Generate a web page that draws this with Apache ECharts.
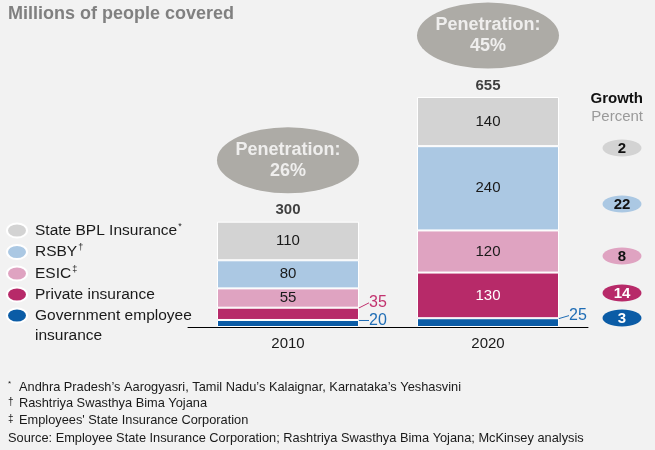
<!DOCTYPE html>
<html><head><meta charset="utf-8">
<script src="https://cdn.jsdelivr.net/npm/echarts@6/dist/echarts.min.js"></script>
<style>html,body{margin:0;padding:0;background:#f2f2f2}#c{width:655px;height:450px}</style>
</head><body><div id="c"></div>
<script>
// ---- data ----
const years = ['2010', '2020'];
const govt = [20, 25];
const priv = [35, 130];
const esic = [55, 120];
const rsby = [80, 240];
const bpl = [110, 140];
const totals = [300, 655];
const penetration = [26, 45];
const growthNames = ['State BPL Insurance', 'RSBY', 'ESIC', 'Private insurance', 'Government employee insurance'];
const growth = [2, 22, 8, 14, 3];
const footnotes = [
  ['*', 'Andhra Pradesh\u2019s Aarogyasri, Tamil Nadu\u2019s Kalaignar, Karnataka\u2019s Yeshasvini'],
  ['\u2020', 'Rashtriya Swasthya Bima Yojana'],
  ['\u2021', 'Employees\' State Insurance Corporation']
];
const sourceText = 'Source: Employee State Insurance Corporation; Rashtriya Swasthya Bima Yojana; McKinsey analysis';

// ---- styling ----
const FONT = '"Liberation Sans", Arial, sans-serif';
const colors = {
  'Government employee insurance': '#0b5ca6',
  'Private insurance': '#b72a69',
  'ESIC': '#dfa3c1',
  'RSBY': '#abc8e3',
  'State BPL Insurance': '#d3d3d3'
};
const sups = {'State BPL Insurance': '*', 'RSBY': '\u2020', 'ESIC': '\u2021'};
const ellipsePath = 'path://M0,50 A100,50 0 1,1 200,50 A100,50 0 1,1 0,50 Z';

function segSeries(name, values, labelColors, outside) {
  return {
    name: name, type: 'bar', stack: 'total', barWidth: 142,
    itemStyle: {color: colors[name], borderColor: '#ffffff', borderWidth: 1},
    label: {show: true, position: 'inside', fontSize: 15, fontFamily: FONT, color: '#1a1a1a'},
    data: values.map(function (v, i) {
      const d = {value: v, label: {color: labelColors[i]}};
      if (outside && outside[i]) {
        d.label = {position: 'right', distance: 10, color: outside[i].color, fontSize: 16};
        d.labelLine = {show: true, lineStyle: {color: outside[i].color, width: 1}};
      }
      return d;
    }),
    labelLayout: outside ? function (p) {
      const o = outside[p.dataIndex];
      return o ? {dy: o.dy} : {};
    } : undefined
  };
}

const series = [
  segSeries('Government employee insurance', govt, ['#fff', '#fff'],
    [{color: '#1f6db5', dy: -3}, {color: '#1f6db5', dy: -7}]),
  segSeries('Private insurance', priv, ['#fff', '#ffffff'],
    [{color: '#c2336f', dy: -11}, null]),
  segSeries('ESIC', esic, ['#1a1a1a', '#1a1a1a']),
  segSeries('RSBY', rsby, ['#1a1a1a', '#1a1a1a']),
  segSeries('State BPL Insurance', bpl, ['#1a1a1a', '#1a1a1a']),
  {
    name: 'totals', type: 'scatter', symbolSize: 0, silent: true,
    data: totals,
    label: {show: true, position: 'top', distance: 4, fontSize: 15, fontWeight: 'bold', color: '#111', fontFamily: FONT}
  },
  {
    name: 'penetration', type: 'scatter', silent: true,
    symbol: ellipsePath, symbolKeepAspect: false, symbolSize: [142, 66],
    itemStyle: {color: '#9b9892'},
    data: totals.map(function (t, i) { return {value: t + 175}; }),
    label: {
      show: true, position: 'inside', color: '#ffffff', fontSize: 18, fontWeight: 'bold',
      fontFamily: FONT, lineHeight: 21,
      formatter: function (p) { return 'Penetration:\n' + penetration[p.dataIndex] + '%'; }
    }
  }
];

// growth badges (annotation column)
const badgeY = [148, 204, 256, 293, 318];
const graphics = [];
growth.forEach(function (g, i) {
  const name = growthNames[i];
  const dark = (name === 'Private insurance' || name === 'Government employee insurance');
  graphics.push({type: 'ellipse', shape: {cx: 622, cy: badgeY[i], rx: 19.5, ry: 8.5},
    style: {fill: colors[name]}, silent: true});
  graphics.push({type: 'text', x: 622, y: badgeY[i] + 0.5, silent: true,
    style: {text: String(g), align: 'center', verticalAlign: 'middle',
      font: 'bold 15px ' + FONT, fill: dark ? '#ffffff' : '#111111'}});
});
graphics.push({type: 'text', x: 643, y: 99, style: {text: 'Growth', align: 'right', verticalAlign: 'middle', font: 'bold 15px ' + FONT, fill: '#111'}});
graphics.push({type: 'text', x: 643, y: 117, style: {text: 'Percent', align: 'right', verticalAlign: 'middle', font: '15px ' + FONT, fill: '#9a9a9a'}});
// footnotes
const fnY = [387, 403, 420];
footnotes.forEach(function (f, i) {
  graphics.push({type: 'text', x: 8, y: fnY[i] - (f[0] === '*' ? 3 : 1), style: {text: f[0], verticalAlign: 'middle', font: (f[0] === '*' ? '8px ' : '10px ') + FONT, fill: '#1a1a1a'}});
  graphics.push({type: 'text', x: 19, y: fnY[i], style: {text: f[1], verticalAlign: 'middle', font: '12.8px ' + FONT, fill: '#1a1a1a'}});
});
graphics.push({type: 'text', x: 8, y: 438, style: {text: sourceText, verticalAlign: 'middle', font: '12.8px ' + FONT, fill: '#1a1a1a'}});

const legendNames = ['State BPL Insurance', 'RSBY', 'ESIC', 'Private insurance', 'Government employee insurance'];

const option = {
  backgroundColor: '#f2f2f2',
  animation: false,
  title: {text: 'Millions of people covered', left: 3, top: 0,
    textStyle: {fontSize: 18, fontWeight: 'bold', color: '#808080', fontFamily: FONT}},
  grid: {left: 188, right: 67, top: 11, bottom: 123},
  xAxis: {type: 'category', data: years,
    axisLine: {lineStyle: {color: '#000', width: 1}}, axisTick: {show: false},
    axisLabel: {fontSize: 15, color: '#1a1a1a', fontFamily: FONT, margin: 9}},
  yAxis: {type: 'value', min: 0, max: 900, show: false, splitLine: {show: false}},
  legend: {
    orient: 'vertical', left: 1, top: 217, itemWidth: 20, itemHeight: 14, itemGap: 5,
    selectedMode: false, icon: 'path://M0,7 A10,7 0 1,1 20,7 A10,7 0 1,1 0,7 Z',
    data: legendNames.map(function (n) {
      if (n === 'Government employee insurance') return {name: n, textStyle: {padding: [20, 0, 0, 3]}};
      return {name: n};
    }),
    formatter: function (n) {
      if (n === 'Government employee insurance') return '{u|Government employee}\n{u|insurance}';
      return '{t|' + n + '}' + (sups[n] ? '{s|' + sups[n] + '}' : '');
    },
    textStyle: {fontSize: 15.5, color: '#1a1a1a', fontFamily: FONT, padding: [0, 0, 0, 3],
      rich: {t: {fontSize: 15.5, color: '#1a1a1a', fontFamily: FONT, lineHeight: 17},
             u: {fontSize: 15.5, color: '#1a1a1a', fontFamily: FONT, lineHeight: 20},
             s: {fontSize: 9, color: '#1a1a1a', fontFamily: FONT, lineHeight: 9, verticalAlign: 'top', padding: [0, 0, 0, 1]}}}
  },
  graphic: graphics,
  series: series
};
const chart = echarts.init(document.getElementById('c'), null, {renderer: 'canvas'});
chart.setOption(option);
</script>
</body></html>
